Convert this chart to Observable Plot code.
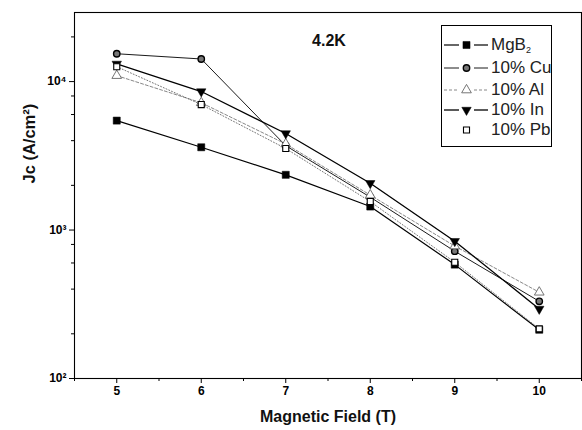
<!DOCTYPE html>
<html>
<head>
<meta charset="utf-8">
<script src="https://cdn.jsdelivr.net/npm/d3@7"></script>
<script src="https://cdn.jsdelivr.net/npm/@observablehq/plot@0.6"></script>
<style>
  html, body { margin: 0; padding: 0; background: #fff; }
  #wrap { position: relative; width: 582px; height: 430px; font-family: "Liberation Sans", Arial, sans-serif; }
  #legend { position: absolute; left: 441px; top: 25px; width: 111px; height: 122px; border: 1px solid #000; background: #fff; box-sizing: border-box; }
  .row { position: absolute; left: 1px; height: 20px; display: flex; align-items: center; }
  .row span { font-size: 17px; margin-left: 2px; color: #222; white-space: nowrap; }
  .row sub { font-size: 9px; vertical-align: -3px; }
</style>
</head>
<body>
<div id="wrap"><div id="legend"></div></div>
<script>
// ---- data ----
const field = [5, 6, 7, 8, 9, 10];
const jcMgB2 = [5460, 3610, 2355, 1440, 585, 213];
const jcCu   = [15400, 14200, 3700, 1665, 720, 331];
const jcAl   = [10970, 7200, 3800, 1720, 780, 381];
const jcIn   = [13150, 8570, 4470, 2065, 841, 294];
const jcPb   = [12600, 7000, 3540, 1556, 607, 216];
const seriesNames = ["MgB2", "10% Cu", "10% Al", "10% In", "10% Pb"];
const seriesValues = [jcMgB2, jcCu, jcAl, jcIn, jcPb];
const xMajor = [5, 6, 7, 8, 9, 10];
const xMinor = [4.5, 5.5, 6.5, 7.5, 8.5, 9.5, 10.5];
const yMajor = [100, 1000, 10000];
const yMinor = [200, 400, 600, 800, 2000, 4000, 6000, 8000, 20000];
const yMajorLabels = ["10\u00b2", "10\u00b3", "10\u2074"];

// custom down-pointing triangle
const triangleDown = {
  draw(context, size) {
    const a = Math.sqrt(4 * size / Math.sqrt(3));
    const h = Math.sqrt(3) / 2 * a;
    context.moveTo(-a / 2, -h / 3);
    context.lineTo(a / 2, -h / 3);
    context.lineTo(0, 2 * h / 3);
    context.closePath();
  }
};

const styles = {
  "MgB2":   {line: {stroke: "#000", strokeWidth: 1.2}, dot: {symbol: "square", r: 4.0, fill: "#000", stroke: "#000", strokeWidth: 0.5}},
  "10% Cu": {line: {stroke: "#000", strokeWidth: 0.9}, dot: {symbol: "circle", r: 3.2, fill: "#777", stroke: "#000", strokeWidth: 1.4}},
  "10% Al": {line: {stroke: "#888", strokeWidth: 1, strokeDasharray: "3,2"}, dot: {symbol: "triangle", r: 3.6, fill: "#fff", stroke: "#666", strokeWidth: 0.9}},
  "10% In": {line: {stroke: "#000", strokeWidth: 1.3}, dot: {symbol: triangleDown, r: 3.5, fill: "#000", stroke: "#000", strokeWidth: 0.5}},
  "10% Pb": {line: {stroke: "#666", strokeWidth: 0.9, strokeDasharray: "1,2"}, dot: {symbol: "square", r: 3.4, fill: "#fff", stroke: "#000", strokeWidth: 1.1}}
};

const rows = [];
seriesNames.forEach((name, i) => field.forEach((x, j) => rows.push({series: name, field: x, jc: seriesValues[i][j]})));

const lineMarks = seriesNames.map(name => Plot.line(rows.filter(d => d.series === name), {x: "field", y: "jc", ...styles[name].line}));
const dotMarks = seriesNames.map(name => Plot.dot(rows.filter(d => d.series === name), {x: "field", y: "jc", ...styles[name].dot}));

const chart = Plot.plot({
  width: 582,
  height: 430,
  marginTop: 12,
  marginBottom: 52,
  marginLeft: 74,
  marginRight: 1,
  style: {fontFamily: "'Liberation Sans', Arial, sans-serif", background: "#fff", color: "#000"},
  x: {domain: [4.5, 10.5], axis: null},
  y: {type: "log", domain: [100, 29200], axis: null},
  marks: [
    Plot.frame({stroke: "#000", strokeWidth: 1.1}),
    Plot.axisX(xMajor, {tickSize: 5, tickPadding: 3, fontSize: 12, fontWeight: "bold", label: null, tickFormat: d => String(d)}),
    Plot.axisX(xMinor, {tickSize: 3, label: null, tickFormat: () => ""}),
    Plot.axisY(yMajor, {tickSize: 5, tickPadding: 3, fontSize: 12, fontWeight: "bold", label: null, tickFormat: d => yMajorLabels[yMajor.indexOf(d)]}),
    Plot.axisY(yMinor, {tickSize: 3, label: null, tickFormat: () => ""}),
    ...lineMarks,
    ...dotMarks,
    Plot.text(["4.2K"], {frameAnchor: "top", dy: 22, dx: 1, fontSize: 16, fontWeight: "bold", fill: "#111"}),
    Plot.text(["Magnetic Field (T)"], {frameAnchor: "bottom", dy: 43, fontSize: 16, fontWeight: "bold", fill: "#111"}),
    Plot.text(["Jc (A/cm\u00b2)"], {frameAnchor: "left", dx: -45, dy: -12, rotate: -90, fontSize: 16.5, fontWeight: "bold", fill: "#111"})
  ]
});
document.getElementById("wrap").prepend(chart);

// ---- legend ----
const legend = document.getElementById("legend");
const legendLabels = ["MgB<sub>2</sub>", "10% Cu", "10% Al", "10% In", "10% Pb"];
const rowTops = [9, 32, 54, 74, 94];
seriesNames.forEach((name, i) => {
  const st = styles[name];
  const row = document.createElement("div");
  row.className = "row";
  row.style.top = rowTops[i] + "px";
  const svg = d3.create("svg").attr("width", 46).attr("height", 20);
  if (name !== "10% Pb") {
    for (const [x1, x2] of [[1, 16], [31, 45]]) {
      svg.append("line").attr("x1", x1).attr("x2", x2).attr("y1", 10).attr("y2", 10)
        .attr("stroke", st.line.stroke).attr("stroke-width", st.line.strokeWidth)
        .attr("stroke-dasharray", st.line.strokeDasharray || null);
    }
  }
  const symType = st.dot.symbol === "square" ? d3.symbolSquare : st.dot.symbol === "circle" ? d3.symbolCircle : st.dot.symbol === "triangle" ? d3.symbolTriangle : st.dot.symbol;
  svg.append("path").attr("transform", "translate(23.5,10)")
    .attr("d", d3.symbol(symType, st.dot.r * st.dot.r * Math.PI)())
    .attr("fill", st.dot.fill).attr("stroke", st.dot.stroke).attr("stroke-width", st.dot.strokeWidth);
  row.appendChild(svg.node());
  const span = document.createElement("span");
  span.innerHTML = legendLabels[i];
  row.appendChild(span);
  legend.appendChild(row);
});
</script>
</body>
</html>
